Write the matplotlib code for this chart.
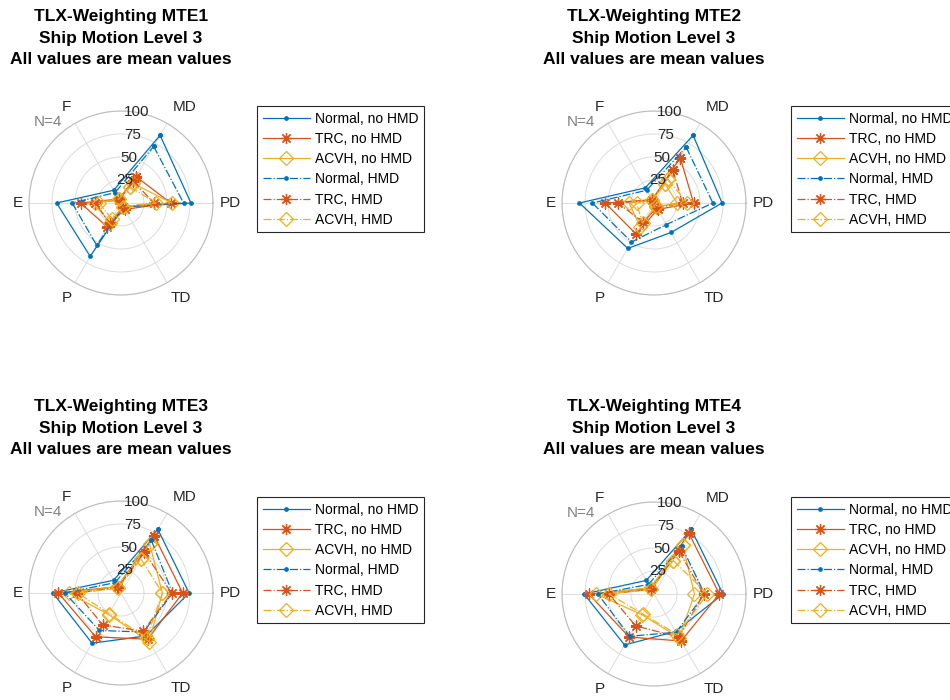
import numpy as np
import matplotlib
matplotlib.use("Agg")
import matplotlib.pyplot as plt

plt.rcParams['font.family'] = ['Liberation Sans', 'DejaVu Sans']

# TLX dimensions, clockwise from the upper right
dimensions = ["MD", "PD", "TD", "P", "E", "F"]
dim_angles = [60, 0, -60, -120, 180, 120]

series_labels = ["Normal, no HMD", "TRC, no HMD", "ACVH, no HMD",
                 "Normal, HMD", "TRC, HMD", "ACVH, HMD"]

# mean weighted scores per series (rows) and dimension (columns)
mte1_values = [[85, 76, 5, 67, 70, 16],
               [33, 54, 8, 30, 44, 5],
               [25, 55, 5, 25, 28, 5],
               [71, 68, 5, 53, 53, 13],
               [27, 36, 5, 25, 28, 4],
               [20, 38, 5, 20, 24, 5]]
mte2_values = [[85, 74, 37, 57, 81, 19],
               [57, 43, 8, 39, 53, 4],
               [24, 25, 5, 30, 27, 4],
               [70, 64, 27, 49, 67, 16],
               [41, 31, 6, 24, 39, 4],
               [30, 36, 4, 25, 19, 4]]
mte3_values = [[80, 74, 54, 63, 74, 16],
               [72, 67, 58, 55, 68, 8],
               [62, 45, 61, 27, 57, 8],
               [66, 56, 49, 47, 61, 13],
               [51, 55, 48, 40, 48, 7],
               [43, 45, 56, 26, 47, 6]]
mte4_values = [[81, 75, 47, 64, 76, 17],
               [76, 71, 59, 54, 71, 7],
               [62, 44, 55, 26, 63, 8],
               [60, 55, 48, 53, 61, 12],
               [54, 54, 54, 40, 49, 6],
               [42, 58, 51, 25, 49, 6]]

plot_titles = ["TLX-Weighting MTE1", "TLX-Weighting MTE2",
               "TLX-Weighting MTE3", "TLX-Weighting MTE4"]
subtitle_lines = ["Ship Motion Level 3", "All values are mean values"]
r_ticks = [25, 50, 75, 100]
n_label = "N=4"

colors = ["#0072BD", "#D95319", "#EDB120"] * 2
styles = ["-"] * 3 + ["-."] * 3
markers = [".", (8, 2, 0), "D"] * 2
msizes = [5, 8, 7] * 2

# where the dimension names sit (angle in deg, radius in data units)
label_pos = [(56.7, 125), (0, 118.5), (-57.7, 122),
             (-119.6, 118.6), (180, 112), (119.8, 120)]

W, H = 950, 700
R = 92  # polar radius in pixels
centers = [(121, 203), (654, 203), (121, 593), (654, 594)]
legend_corners = [(257, 106), (791, 106), (257, 497), (791, 497)]
title_tops = [17, 407]

fig = plt.figure(figsize=(W / 100, H / 100), dpi=100)

theta = np.deg2rad(dim_angles + dim_angles[:1])
all_values = [mte1_values, mte2_values, mte3_values, mte4_values]

for k, values in enumerate(all_values):
    cx, cy = centers[k]
    ax = fig.add_axes([(cx - R) / W, 1 - (cy + R) / H, 2 * R / W, 2 * R / H],
                      projection='polar')
    for i, row in enumerate(values):
        r = list(row) + [row[0]]
        ax.plot(theta, r, linestyle=styles[i], color=colors[i], lw=0.9,
                marker=markers[i], markersize=msizes[i],
                markerfacecolor='none' if markers[i] == 'D' else colors[i],
                markeredgewidth=0.9, label=series_labels[i])
    ax.set_ylim(0, 100)
    ax.set_rticks(r_ticks)
    ax.set_yticklabels([])
    for rt in r_ticks:
        ax.text(np.deg2rad(80), rt, str(rt), fontsize=11, color='#262626',
                ha='center', va='center')
    ax.set_thetagrids([a % 360 for a in dim_angles], [""] * 6)
    for name, (ang, rad) in zip(dimensions, label_pos):
        ax.text(np.deg2rad(ang), rad, name, fontsize=11, color='#262626',
                ha='center', va='center')
    ax.grid(color='#dcdcdc', lw=0.7)
    ax.spines['polar'].set_color('#bcbcbc')
    ax.spines['polar'].set_linewidth(0.8)
    ax.text(np.deg2rad(132), 119, n_label, color='#808080', fontsize=11,
            ha='center', va='center')

    lx, ly = legend_corners[k]
    leg = ax.legend(loc='upper left', bbox_to_anchor=(lx / W, 1 - ly / H),
                    bbox_transform=fig.transFigure, borderaxespad=0,
                    fontsize=10, handlelength=3.4, numpoints=1,
                    fancybox=False, framealpha=1, edgecolor='#262626',
                    labelspacing=0.45, borderpad=0.4, handletextpad=0.4)
    leg.get_frame().set_linewidth(0.8)

    ty = title_tops[k // 2]
    lines = [plot_titles[k]] + subtitle_lines
    for j, line in enumerate(lines):
        fig.text(cx / W, 1 - (ty + 21.5 * j) / H, line, ha='center',
                 va='center', fontsize=12.5, fontweight='bold')

fig.savefig("out.png", dpi=100)
